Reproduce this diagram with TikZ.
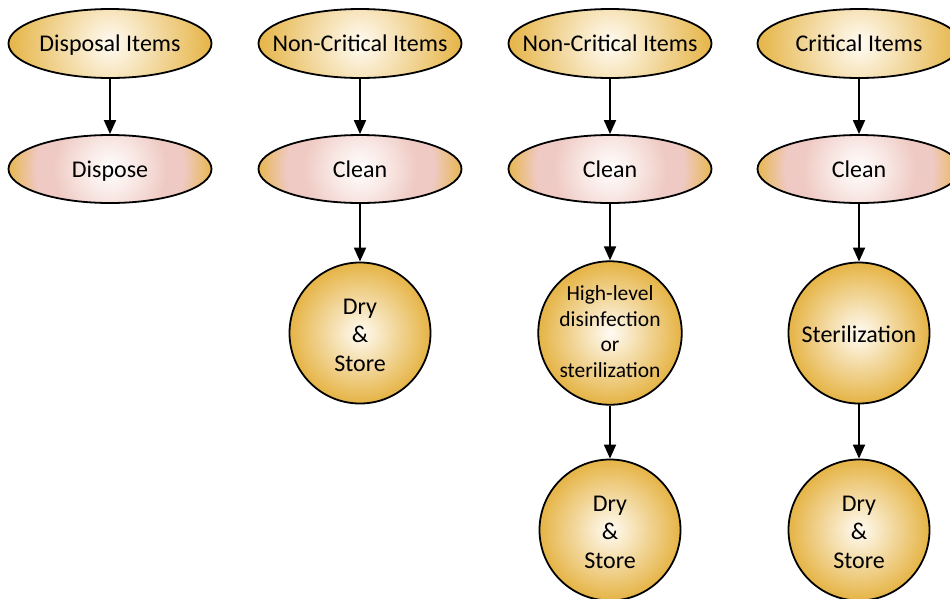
\documentclass[tikz,border=0pt]{standalone}
\usepackage{fontspec}
\setmainfont{Carlito}
\usetikzlibrary{arrows.meta,shapes.geometric}
\definecolor{gold}{HTML}{E6B64B}
\definecolor{cream}{HTML}{FFFBF3}
\definecolor{pinkc}{HTML}{EFC9C3}
\definecolor{pinkl}{HTML}{F8E6E2}
\pgfdeclareradialshading{goldrad}{\pgfpoint{0bp}{0bp}}{color(0bp)=(cream); color(24bp)=(gold); color(50bp)=(gold)}
\pgfdeclareradialshading{pinkrad}{\pgfpoint{0bp}{0bp}}{color(0bp)=(white); color(7bp)=(pinkl); color(14bp)=(pinkc); color(18bp)=(pinkc); color(25bp)=(gold); color(50bp)=(gold)}
\newcommand{\cstk}[2][-4pt]{\raisebox{#1}[\height][\depth]{\begin{tabular}{@{}c@{}}#2\end{tabular}}}
\tikzset{
  basefont/.style={font=\fontsize{24}{28.5}\selectfont},
  ovalbase/.style={ellipse, draw, line width=1.8pt, minimum width=203pt, inner xsep=-25pt, inner ysep=0pt,
    text height=16pt, text depth=0pt, basefont},
  itembox/.style={ovalbase, minimum height=69pt,
    path picture={\shade[shading=goldrad] (path picture bounding box.center) circle (103pt);}},
  cleanbox/.style={ovalbase, minimum height=68pt,
    path picture={\shade[shading=pinkrad] (path picture bounding box.center) circle (103pt);}},
  stepcircle/.style={circle, draw, line width=1.8pt, minimum size=141pt, inner sep=0pt, basefont,
    path picture={\shade[shading=goldrad] (path picture bounding box.center) circle (71pt);}},
  smalltext/.style={font=\fontsize{21.5}{25.5}\selectfont},
  arr/.style={line width=1.8pt, -{Triangle[length=14pt,width=12pt]}}
}
\begin{document}
\begin{tikzpicture}[x=1pt,y=-1pt]
\path[use as bounding box, clip] (0,0) rectangle (950,598);
% column 1
\node[itembox] (d1) at (110,43.5) {Disposal Items};
\node[cleanbox] (d2) at (110,169) {Dispose};
% column 2
\node[itembox] (a1) at (360,43.5) {Non-Critical Items};
\node[cleanbox] (a2) at (360,169) {Clean};
\node[stepcircle] (a3) at (360,333) {\cstk{Dry\\\&\\Store}};
% column 3
\node[itembox] (b1) at (610,43.5) {Non-Critical Items};
\node[cleanbox] (b2) at (610,169) {Clean};
\node[stepcircle, smalltext] (b3) at (610,333) {\cstk[-1pt]{High-level\\disinfection\\or\\sterilization}};
\node[stepcircle] (b4) at (610,530) {\cstk{Dry\\\&\\Store}};
% column 4
\node[itembox] (c1) at (859,43.5) {Critical Items};
\node[cleanbox] (c2) at (859,169) {Clean};
\node[stepcircle] (c3) at (859,333) {\cstk{Sterilization}};
\node[stepcircle] (c4) at (859,530) {\cstk{Dry\\\&\\Store}};
% connectors
\draw[arr] (d1.south) -- (d2.north);
\draw[arr] (a1.south) -- (a2.north);
\draw[arr] (a2.south) -- (a3.north);
\draw[arr] (b1.south) -- (b2.north);
\draw[arr] (b2.south) -- (b3.north);
\draw[arr] (b3.south) -- (b4.north);
\draw[arr] (c1.south) -- (c2.north);
\draw[arr] (c2.south) -- (c3.north);
\draw[arr] (c3.south) -- (c4.north);
\end{tikzpicture}
\end{document}
